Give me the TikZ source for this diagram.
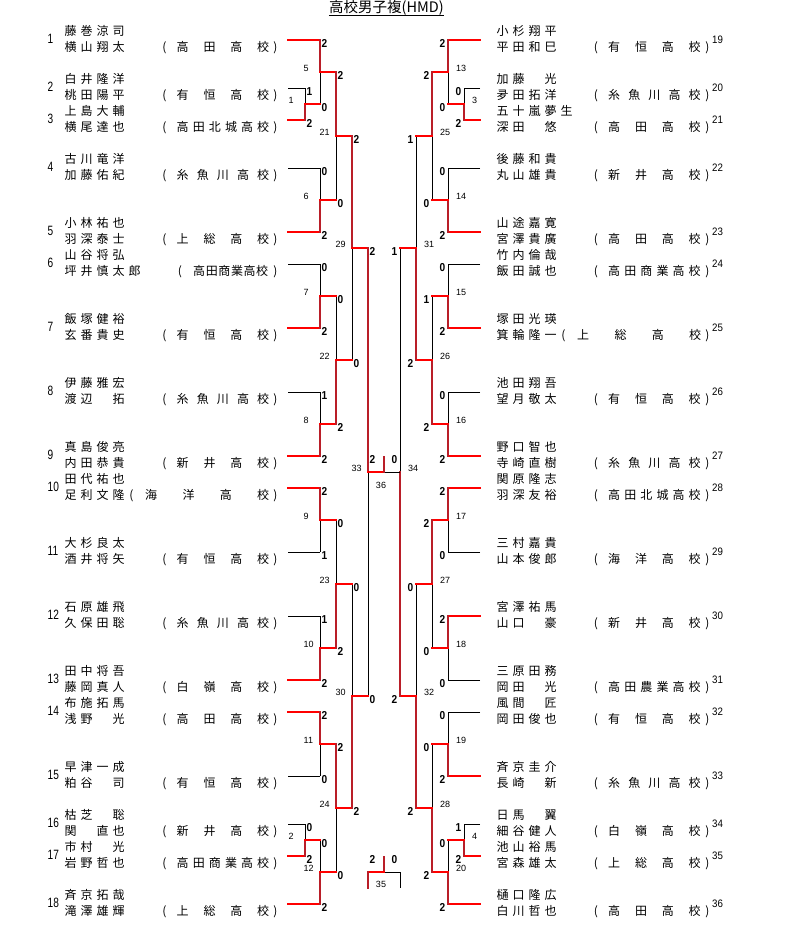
\documentclass[tikz,border=0pt]{standalone}
\usepackage{fontspec}
\setmainfont{Noto Sans CJK JP}
\newfontfamily\lnumfont[FakeStretch=0.75]{Liberation Sans}
\newfontfamily\rnumfont[FakeStretch=0.9]{Liberation Sans}
\newfontfamily\scfont[FakeStretch=0.88]{Liberation Sans}
\newfontfamily\labfont{Liberation Sans}
\definecolor{rvcol}{RGB}{185,30,40}
\pgfdeclarelayer{top}
\pgfsetlayers{main,top}
\ExplSyntaxOn
\NewDocumentCommand\pitch{mm}{\tl_map_inline:nn{#2}{\makebox[#1][l]{##1}}}
\NewDocumentCommand\spread{mm}{\hbox~to~#1{\tl_map_inline:nn{#2}{##1\hfill}\unskip}}
\ExplSyntaxOff
\tikzset{
 bl/.style={black,line width=1pt},
 redh/.style={red,line width=2.2pt,line cap=rect},
 redv/.style={rvcol,line width=2.2pt,line cap=rect},
 nm/.style={anchor=base west,inner sep=0pt,font=\fontsize{12}{14}\selectfont},
 paren/.style={anchor=base,inner sep=0pt,font=\fontsize{12}{14}\selectfont},
 lnum/.style={anchor=base west,inner sep=0pt,font=\lnumfont\fontsize{13.5}{15}\selectfont},
 rnum/.style={anchor=base west,inner sep=0pt,font=\rnumfont\fontsize{10.8}{12}\selectfont},
 sc/.style={inner sep=0pt,font=\scfont\bfseries\fontsize{11.5}{13}\selectfont},
 lab/.style={anchor=base west,inner sep=0pt,font=\labfont\fontsize{9}{10}\selectfont},
}
% entries
\newcommand\entL[4]{%
  \node[lnum] at (47.5,{#2+3}) {#1};
  \node[nm] at (64.5,{#2-4.3}) {\pitch{16pt}{#3}};
  \node[nm] at (64.5,{#2+11.8}) {\pitch{16pt}{#4}};}
\newcommand\entR[4]{%
  \node[nm] at (496.5,{#2-4.3}) {\pitch{16pt}{#3}};
  \node[nm] at (496.5,{#2+11.8}) {\pitch{16pt}{#4}};
  \node[rnum] at (712,{#2+3}) {#1};}
\newcommand\sch[6]{%
  \node[paren] at (#2,{#1+11.8}) {(};
  \node[nm] at (#3,{#1+11.8}) {\spread{#4}{#6}};
  \node[paren] at (#5,{#1+11.8}) {)};}
\newcommand\schL[2]{\sch{#1}{164.5}{176.5}{92.5pt}{275.5}{#2}}
\newcommand\schR[2]{\sch{#1}{596}{608}{92.5pt}{707.5}{#2}}
% entry lines
\newcommand\eR[3]{\begin{pgfonlayer}{top}\draw[redh] (#1,#3) -- (#2,#3);\end{pgfonlayer}}
\newcommand\eB[3]{\draw[bl] (#1,#3) -- (#2,#3);}
% matches: vx, y1, y2, s1, s2, winner, label, xout, outstyle
\newcommand\mL[9]{%
  \pgfmathsetmacro\ym{(#2+#3)/2}%
  \ifnum#6=1\relax
    \draw[bl] (#1,\ym) -- (#1,#3);
    \begin{pgfonlayer}{top}\draw[redv] (#1,#2) -- (#1,\ym);\end{pgfonlayer}%
  \else
    \draw[bl] (#1,#2) -- (#1,\ym);
    \begin{pgfonlayer}{top}\draw[redv] (#1,#3) -- (#1,\ym);\end{pgfonlayer}%
  \fi
  \begin{pgfonlayer}{top}\draw[#9] (#1,\ym) -- (#8,\ym);\end{pgfonlayer}%
  \node[sc,anchor=base west] at ({#1+1.5},{#2+7.5}) {#4};
  \node[sc,anchor=base west] at ({#1+1.5},{#3+7.5}) {#5};
  \node[lab] at ({#1-16.5},{\ym-0.5}) {#7};}
\newcommand\mR[9]{%
  \pgfmathsetmacro\ym{(#2+#3)/2}%
  \ifnum#6=1\relax
    \draw[bl] (#1,\ym) -- (#1,#3);
    \begin{pgfonlayer}{top}\draw[redv] (#1,#2) -- (#1,\ym);\end{pgfonlayer}%
  \else
    \draw[bl] (#1,#2) -- (#1,\ym);
    \begin{pgfonlayer}{top}\draw[redv] (#1,#3) -- (#1,\ym);\end{pgfonlayer}%
  \fi
  \begin{pgfonlayer}{top}\draw[#9] (#1,\ym) -- (#8,\ym);\end{pgfonlayer}%
  \node[sc,anchor=base east] at ({#1-2.5},{#2+7.5}) {#4};
  \node[sc,anchor=base east] at ({#1-2.5},{#3+7.5}) {#5};
  \node[lab] at ({#1+8},{\ym-0.5}) {#7};}
\begin{document}
\begin{tikzpicture}[x=1pt,y=-1pt]
\useasboundingbox (0,0) rectangle (794,938);
% title
\node[anchor=base,inner sep=0pt,font=\fontsize{14.5}{16}\selectfont] (title) at (386.5,12.5) {高校男子複(HMD)};
\draw[bl] ([yshift=-3pt]title.base west) -- ([yshift=-3pt]title.base east);
% ---------- left entries ----------
\entL{1}{40}{藤巻涼司}{横山翔太} \schL{40}{高田高校}
\entL{2}{88}{白井隆洋}{桃田陽平} \schL{88}{有恒高校}
\entL{3}{120}{上島大輔}{横尾達也} \schL{120}{高田北城高校}
\entL{4}{168}{古川竜洋}{加藤佑紀} \schL{168}{糸魚川高校}
\entL{5}{232}{小林祐也}{羽深泰士} \schL{232}{上総高校}
\entL{6}{264}{山谷将弘}{坪井慎太郎} \sch{264}{180}{193}{75pt}{275.5}{高田商業高校}
\entL{7}{328}{飯塚健裕}{玄番貴史} \schL{328}{有恒高校}
\entL{8}{392}{伊藤雅宏}{渡辺　拓} \schL{392}{糸魚川高校}
\entL{9}{456}{真島俊亮}{内田恭貴} \schL{456}{新井高校}
\entL{10}{488}{田代祐也}{足利文隆} \sch{488}{131.5}{145}{124pt}{275.5}{海洋高校}
\entL{11}{552}{大杉良太}{酒井将矢} \schL{552}{有恒高校}
\entL{12}{616}{石原雄飛}{久保田聡} \schL{616}{糸魚川高校}
\entL{13}{680}{田中将吾}{藤岡真人} \schL{680}{白嶺高校}
\entL{14}{712}{布施拓馬}{浅野　光} \schL{712}{高田高校}
\entL{15}{776}{早津一成}{粕谷　司} \schL{776}{有恒高校}
\entL{16}{824}{枯芝　聡}{関　直也} \schL{824}{新井高校}
\entL{17}{856}{市村　光}{岩野哲也} \schL{856}{高田商業高校}
\entL{18}{904}{斉京拓哉}{滝澤雄輝} \schL{904}{上総高校}
% ---------- right entries ----------
\entR{19}{40}{小杉翔平}{平田和巳} \schR{40}{有恒高校}
\entR{20}{88}{加藤　光}{夛田拓洋} \schR{88}{糸魚川高校}
\entR{21}{120}{五十嵐夢生}{深田　悠} \schR{120}{高田高校}
\entR{22}{168}{後藤和貴}{丸山雄貴} \schR{168}{新井高校}
\entR{23}{232}{山途嘉寛}{宮澤貴廣} \schR{232}{高田高校}
\entR{24}{264}{竹内倫哉}{飯田誠也} \schR{264}{高田商業高校}
\entR{25}{328}{塚田光瑛}{箕輪隆一} \sch{328}{563.5}{577}{124pt}{707.5}{上総高校}
\entR{26}{392}{池田翔吾}{望月敬太} \schR{392}{有恒高校}
\entR{27}{456}{野口智也}{寺崎直樹} \schR{456}{糸魚川高校}
\entR{28}{488}{関原隆志}{羽深友裕} \schR{488}{高田北城高校}
\entR{29}{552}{三村嘉貴}{山本俊郎} \schR{552}{海洋高校}
\entR{30}{616}{宮澤祐馬}{山口　豪} \schR{616}{新井高校}
\entR{31}{680}{三原田務}{岡田　光} \schR{680}{高田農業高校}
\entR{32}{712}{風間　匠}{岡田俊也} \schR{712}{有恒高校}
\entR{33}{776}{斉京圭介}{長崎　新} \schR{776}{糸魚川高校}
\entR{34}{824}{日馬　翼}{細谷健人} \schR{824}{白嶺高校}
\entR{35}{856}{池山裕馬}{宮森雄太} \schR{856}{上総高校}
\entR{36}{904}{樋口隆広}{白川哲也} \schR{904}{高田高校}
% ---------- entry lines ----------
\eR{288}{320}{40} \eB{288}{305}{88} \eR{288}{305}{120} \eB{288}{320}{168}
\eR{288}{320}{232} \eB{288}{320}{264} \eR{288}{320}{328} \eB{288}{320}{392}
\eR{288}{320}{456} \eR{288}{320}{488} \eB{288}{320}{552} \eB{288}{320}{616}
\eR{288}{320}{680} \eR{288}{320}{712} \eB{288}{320}{776} \eB{288}{305}{824}
\eR{288}{305}{856} \eR{288}{320}{904}
\eR{480}{448}{40} \eB{480}{464}{88} \eR{480}{464}{120} \eB{480}{448}{168}
\eR{480}{448}{232} \eB{480}{448}{264} \eR{480}{448}{328} \eB{480}{448}{392}
\eR{480}{448}{456} \eR{480}{448}{488} \eB{480}{448}{552} \eR{480}{448}{616}
\eB{480}{448}{680} \eB{480}{448}{712} \eR{480}{448}{776} \eB{480}{464}{824}
\eR{480}{464}{856} \eR{480}{448}{904}
% ---------- left matches ----------
\mL{305}{88}{120}{1}{2}{2}{1}{320}{redh}
\mL{305}{824}{856}{0}{2}{2}{2}{320}{redh}
\mL{320}{40}{104}{2}{0}{1}{5}{336}{redh}
\mL{320}{168}{232}{0}{2}{2}{6}{336}{redh}
\mL{320}{264}{328}{0}{2}{2}{7}{336}{redh}
\mL{320}{392}{456}{1}{2}{2}{8}{336}{redh}
\mL{320}{488}{552}{2}{1}{1}{9}{336}{redh}
\mL{320}{616}{680}{1}{2}{2}{10}{336}{redh}
\mL{320}{712}{776}{2}{0}{1}{11}{336}{redh}
\mL{320}{840}{904}{0}{2}{2}{12}{336}{redh}
\mL{336}{72}{200}{2}{0}{1}{21}{352}{redh}
\mL{336}{296}{424}{0}{2}{2}{22}{352}{redh}
\mL{336}{520}{648}{0}{2}{2}{23}{352}{redh}
\mL{336}{744}{872}{2}{0}{1}{24}{352}{redh}
\mL{352}{136}{360}{2}{0}{1}{29}{368}{redh}
\mL{352}{584}{808}{0}{2}{2}{30}{368}{redh}
\mL{368}{248}{696}{2}{0}{1}{33}{384}{redh}
% ---------- right matches ----------
\mR{464}{88}{120}{0}{2}{2}{3}{448}{redh}
\mR{464}{824}{856}{1}{2}{2}{4}{448}{redh}
\mR{448}{40}{104}{2}{0}{1}{13}{432}{redh}
\mR{448}{168}{232}{0}{2}{2}{14}{432}{redh}
\mR{448}{264}{328}{0}{2}{2}{15}{432}{redh}
\mR{448}{392}{456}{0}{2}{2}{16}{432}{redh}
\mR{448}{488}{552}{2}{0}{1}{17}{432}{redh}
\mR{448}{616}{680}{2}{0}{1}{18}{432}{redh}
\mR{448}{712}{776}{0}{2}{2}{19}{432}{redh}
\mR{448}{840}{904}{0}{2}{2}{20}{432}{redh}
\mR{432}{72}{200}{2}{0}{1}{25}{416}{redh}
\mR{432}{296}{424}{1}{2}{2}{26}{416}{redh}
\mR{432}{520}{648}{2}{0}{1}{27}{416}{redh}
\mR{432}{744}{872}{0}{2}{2}{28}{416}{redh}
\mR{416}{136}{360}{1}{2}{2}{31}{400}{redh}
\mR{416}{584}{808}{0}{2}{2}{32}{400}{redh}
\mR{400}{248}{696}{1}{2}{2}{34}{384}{bl}
% ---------- final (36) and match 35 ----------
\begin{pgfonlayer}{top}
\draw[redv] (384,457) -- (384,472);
\draw[redv] (384,857) -- (384,872);
\draw[redh] (368,872) -- (384,872);
\draw[redv] (368,872) -- (368,888);
\end{pgfonlayer}
\draw[bl] (384,872) -- (400,872) -- (400,888);
\node[sc,anchor=base] at (372.5,463) {2};
\node[sc,anchor=base] at (394.5,463) {0};
\node[lab,anchor=base] at (381,488) {36};
\node[sc,anchor=base] at (372.5,863) {2};
\node[sc,anchor=base] at (394.5,863) {0};
\node[lab,anchor=base] at (381,887.5) {35};
\end{tikzpicture}
\end{document}
